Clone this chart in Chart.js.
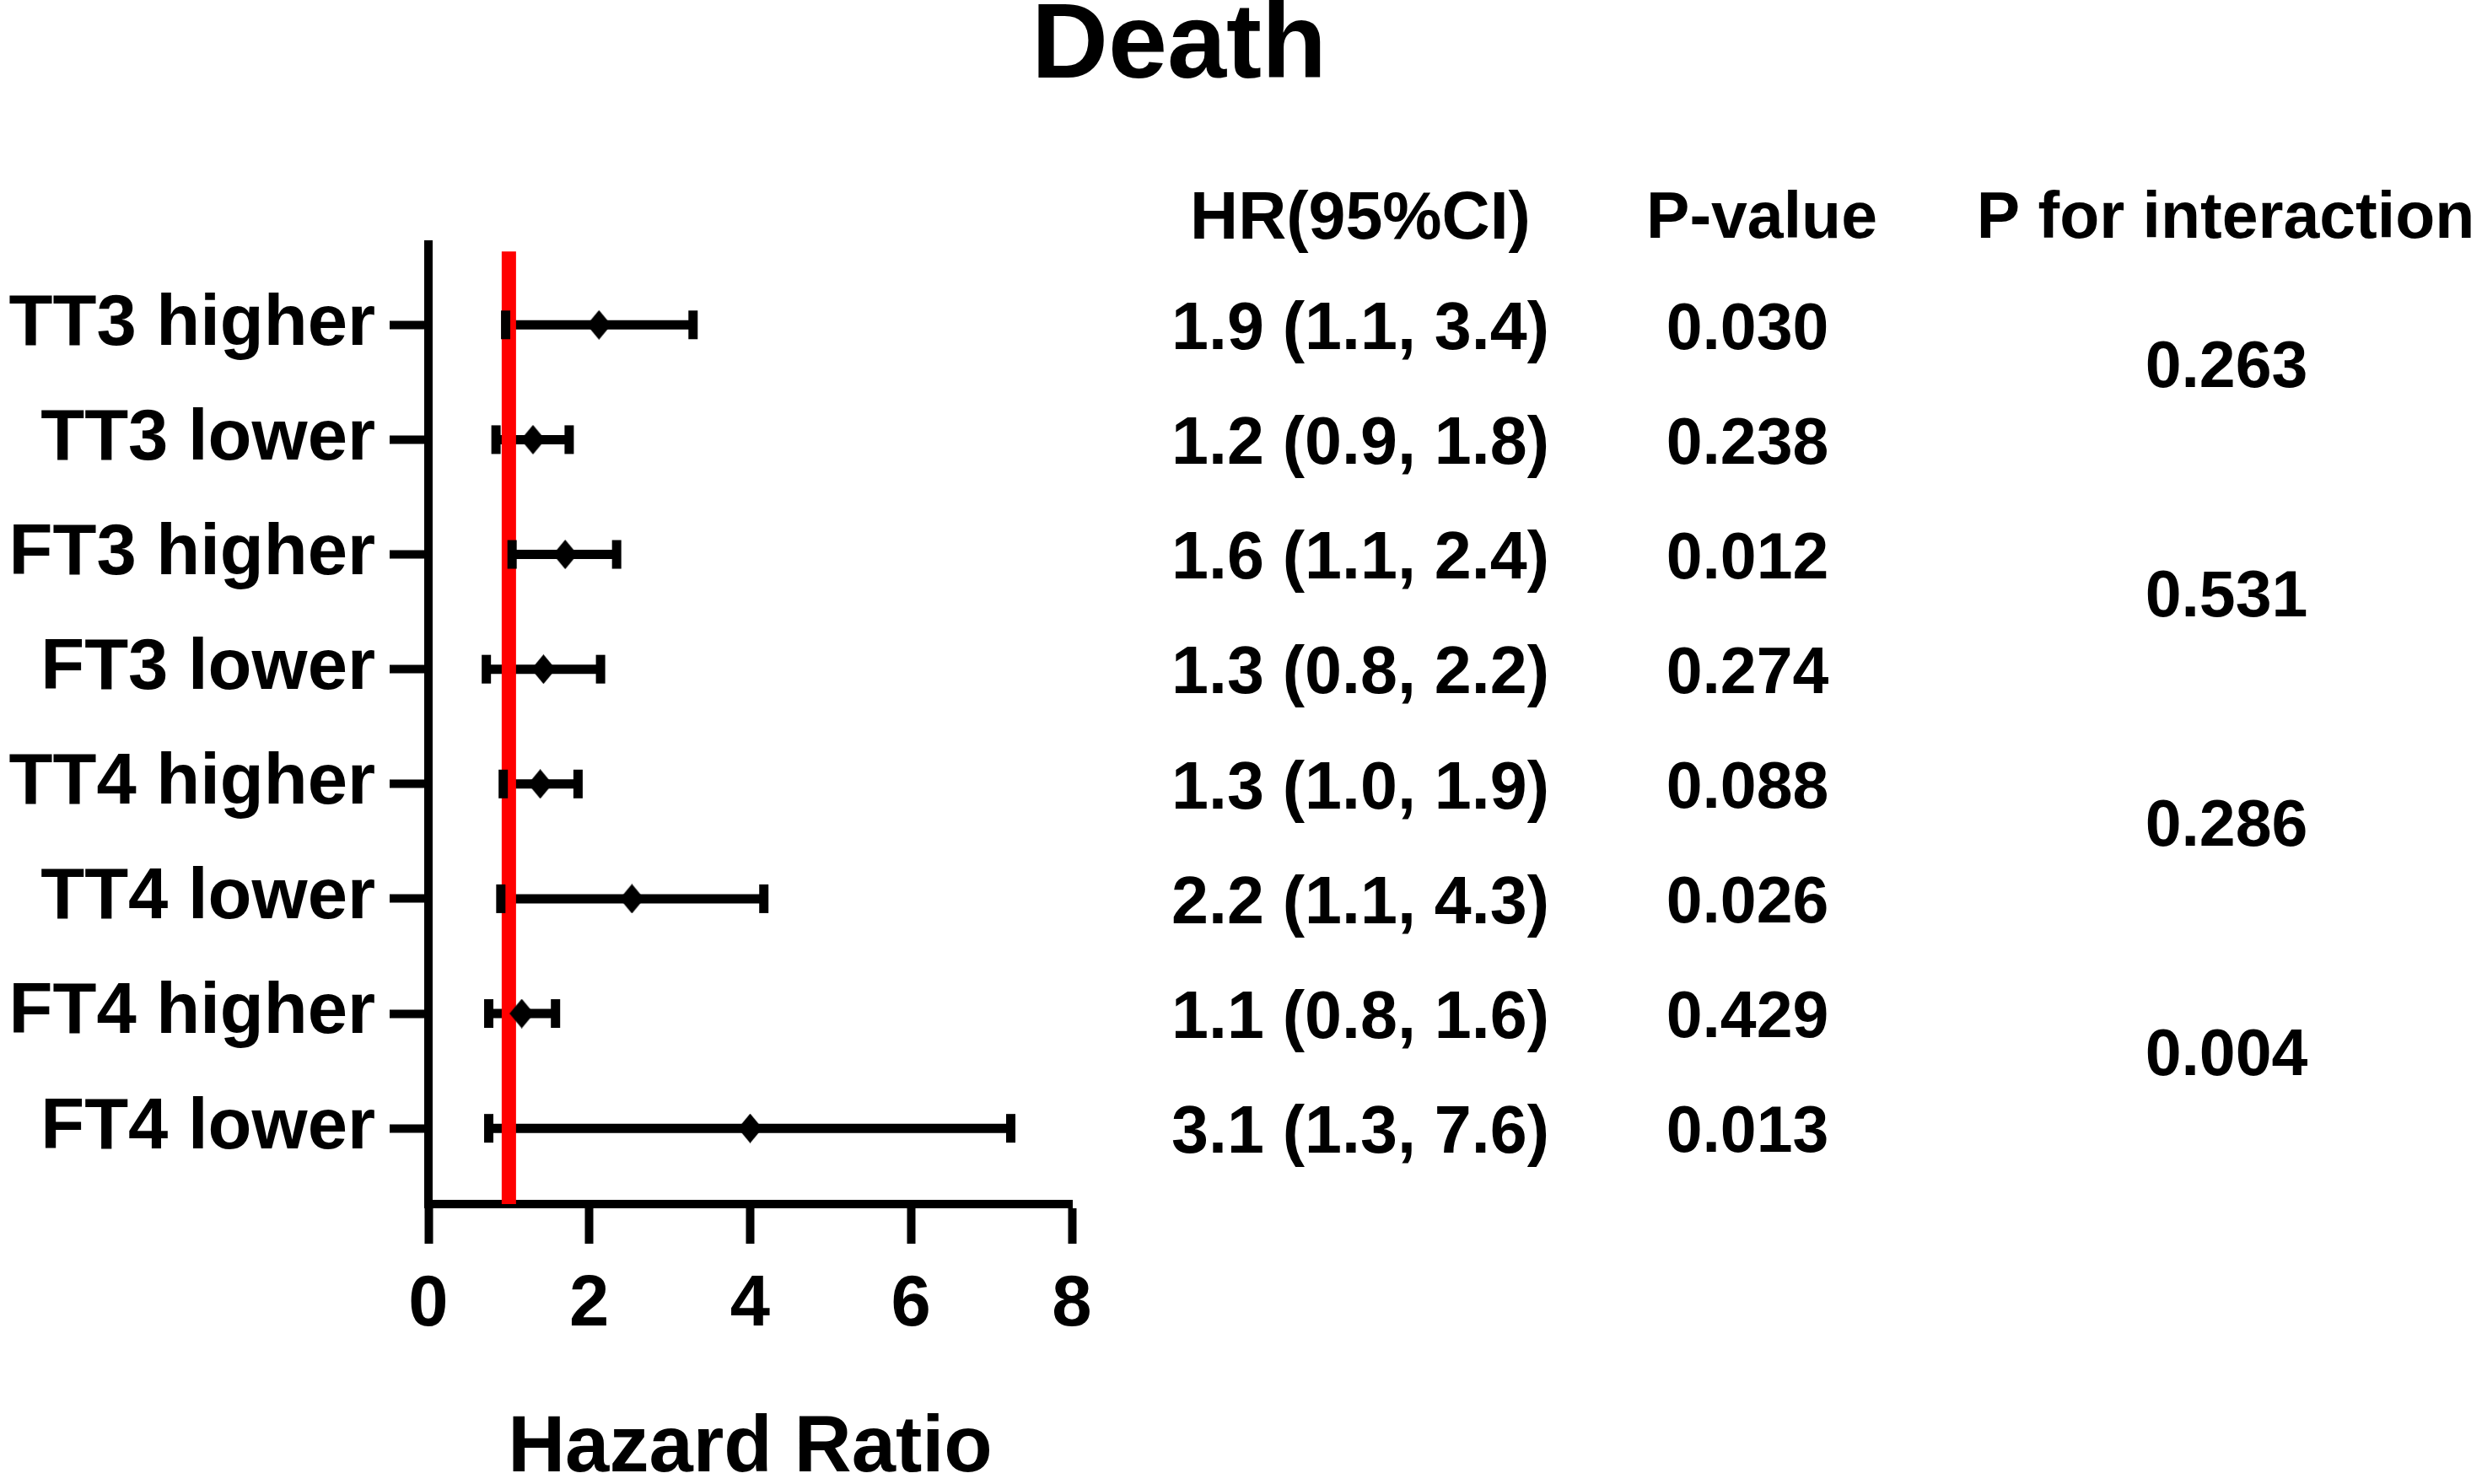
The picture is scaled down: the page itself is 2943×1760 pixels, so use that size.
<!DOCTYPE html>
<html lang="en">
<head>
    <meta charset="UTF-8">
    <title>Death - Hazard Ratio</title>
    <script src="https://cdn.jsdelivr.net/npm/chart.js"></script>
    <style>
        html, body { margin: 0; padding: 0; background: #fff; }
        #forest { display: block; }
    </style>
</head>
<body>
<canvas id="forest" width="2943" height="1760"></canvas>
<script>
    // values
    const rowLabels = ["TT3 higher", "TT3 lower", "FT3 higher", "FT3 lower",
                       "TT4 higher", "TT4 lower", "FT4 higher", "FT4 lower"];
    const hrPoint = [2.12, 1.30, 1.70, 1.43, 1.39, 2.53, 1.16, 4.00];
    const ciLow   = [0.96, 0.84, 1.04, 0.72, 0.93, 0.90, 0.75, 0.75];
    const ciHigh  = [3.29, 1.75, 2.34, 2.14, 1.86, 4.17, 1.58, 7.24];
    const hrText  = ["1.9 (1.1, 3.4)", "1.2 (0.9, 1.8)", "1.6 (1.1, 2.4)", "1.3 (0.8, 2.2)",
                     "1.3 (1.0, 1.9)", "2.2 (1.1, 4.3)", "1.1 (0.8, 1.6)", "3.1 (1.3, 7.6)"];
    const pValues = ["0.030", "0.238", "0.012", "0.274", "0.088", "0.026", "0.429", "0.013"];
    const pInteraction = ["0.263", "0.531", "0.286", "0.004"];
    const xTicks = [0, 2, 4, 6, 8];
    const refLine = 1;

    const rowPos = rowLabels.map((_, i) => i + 1);
    const FONT = "'Liberation Sans', Arial, sans-serif";

    Chart.defaults.font.family = FONT;
    Chart.defaults.color = "#000";

    // diamond marker, a bit taller than wide like the original
    function diamond(w, h) {
        const c = document.createElement("canvas");
        c.width = w; c.height = h;
        const g = c.getContext("2d");
        g.fillStyle = "#000";
        g.beginPath();
        g.moveTo(w / 2, 0); g.lineTo(w, h / 2); g.lineTo(w / 2, h); g.lineTo(0, h / 2);
        g.closePath();
        g.fill();
        return c;
    }

    const ciLines = rowPos.map((y, i) => ({
        data: [{x: ciLow[i], y: y}, {x: ciHigh[i], y: y}],
        showLine: true,
        borderColor: "#000",
        borderWidth: 11,
        pointRadius: 0,
        order: 3
    }));

    const datasets = [
        {
            label: "HR",
            data: rowPos.map((y, i) => ({x: hrPoint[i], y: y})),
            pointStyle: diamond(29, 35),
            pointRadius: 17,
            order: 0
        },
        {
            label: "caps",
            data: rowPos.map((y, i) => ({x: ciLow[i], y: y}))
                .concat(rowPos.map((y, i) => ({x: ciHigh[i], y: y}))),
            pointStyle: "line",
            rotation: 90,
            pointRadius: 17,
            pointBorderWidth: 11,
            pointBorderColor: "#000",
            order: 1
        },
        {
            label: "ref",
            data: [{x: refLine, y: 0.36}, {x: refLine, y: 8.66}],
            showLine: true,
            borderColor: "#ff0000",
            borderWidth: 17,
            pointRadius: 0,
            order: 2
        }
    ].concat(ciLines);

    const tableText = {
        id: "tableText",
        afterDraw(chart) {
            const ctx = chart.ctx;
            const y = chart.scales.y;
            ctx.save();
            ctx.fillStyle = "#000";
            ctx.textAlign = "center";
            ctx.textBaseline = "middle";

            ctx.font = "bold 126px " + FONT;
            ctx.fillText("Death", 1398, 57);

            ctx.font = "bold 79px " + FONT;
            ctx.fillText("HR(95%CI)", 1613, 261);
            ctx.font = "bold 77px " + FONT;
            ctx.fillText("P-value", 2089, 261);
            ctx.fillText("P for interaction", 2639, 261);

            rowPos.forEach((v, i) => {
                const py = y.getPixelForValue(v) + 7;
                ctx.font = "bold 79px " + FONT;
                ctx.fillText(hrText[i], 1613, py);
                ctx.font = "bold 77px " + FONT;
                ctx.fillText(pValues[i], 2072, py);
            });

            pInteraction.forEach((txt, k) => {
                const py = y.getPixelForValue(2 * k + 1.36) + 3;
                ctx.fillText(txt, 2640, py);
            });
            ctx.restore();
        }
    };

    new Chart(document.getElementById("forest"), {
        type: "scatter",
        data: { datasets: datasets },
        options: {
            responsive: false,
            animation: false,
            devicePixelRatio: 1,
            layout: { padding: { left: 0, right: 1672, top: 290, bottom: 0 } },
            plugins: {
                legend: { display: false },
                tooltip: { enabled: false }
            },
            scales: {
                x: {
                    type: "linear",
                    position: "bottom",
                    min: 0,
                    max: 8,
                    afterBuildTicks: s => { s.ticks = xTicks.map(v => ({value: v})); },
                    afterFit: s => { s.height = 332; },
                    ticks: {
                        color: "#000",
                        padding: 23,
                        font: { size: 85, weight: "bold" }
                    },
                    grid: {
                        drawOnChartArea: false,
                        tickLength: 47,
                        tickWidth: 10,
                        tickColor: "#000",
                        color: "#000"
                    },
                    border: { display: true, color: "#000", width: 10 },
                    title: {
                        display: true,
                        text: "Hazard Ratio",
                        color: "#000",
                        padding: { top: 0, bottom: -6 },
                        font: { size: 94, weight: "bold", lineHeight: 1 }
                    }
                },
                y: {
                    type: "linear",
                    reverse: true,
                    min: 0.3,
                    max: 8.66,
                    afterBuildTicks: s => { s.ticks = rowPos.map(v => ({value: v})); },
                    afterFit: s => { s.width = 508; },
                    ticks: {
                        color: "#000",
                        padding: 17,
                        font: { size: 85, weight: "bold" },
                        callback: v => rowLabels[v - 1]
                    },
                    grid: {
                        drawOnChartArea: false,
                        tickLength: 46,
                        tickWidth: 10,
                        tickColor: "#000",
                        color: "#000"
                    },
                    border: { display: true, color: "#000", width: 10 }
                }
            }
        },
        plugins: [tableText]
    });
</script>
</body>
</html>
